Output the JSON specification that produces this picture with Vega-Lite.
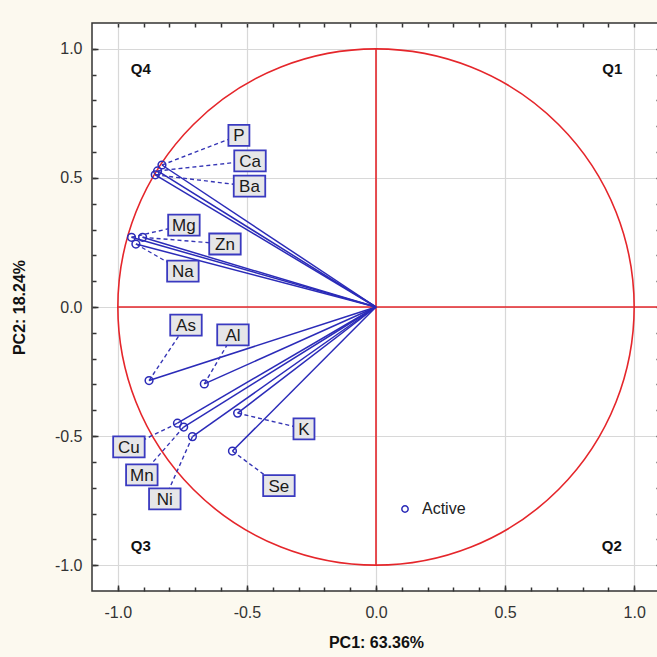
{
  "$schema": "https://vega.github.io/schema/vega-lite/v6.json",
  "autosize": {"type": "none"},
  "padding": {"left": 92, "top": 23, "right": 0, "bottom": 66},
  "width": 568,
  "height": 568,
  "background": "#fcf9ef",
  "config": {
    "view": {"fill": "white", "stroke": "#333333", "strokeWidth": 1.5},
    "font": "Liberation Sans",
    "axis": {"domain": false, "labelFont": "Liberation Sans", "titleFont": "Liberation Sans"}
  },
  "datasets": {
    "vars": [
      {"label": "P", "pc1": -0.829, "pc2": 0.550, "lx": -0.531, "ly": 0.665},
      {"label": "Ca", "pc1": -0.846, "pc2": 0.527, "lx": -0.488, "ly": 0.566},
      {"label": "Ba", "pc1": -0.855, "pc2": 0.512, "lx": -0.490, "ly": 0.468},
      {"label": "Mg", "pc1": -0.947, "pc2": 0.270, "lx": -0.744, "ly": 0.317},
      {"label": "Zn", "pc1": -0.904, "pc2": 0.270, "lx": -0.585, "ly": 0.244},
      {"label": "Na", "pc1": -0.930, "pc2": 0.244, "lx": -0.748, "ly": 0.139},
      {"label": "As", "pc1": -0.879, "pc2": -0.285, "lx": -0.736, "ly": -0.070},
      {"label": "Al", "pc1": -0.665, "pc2": -0.298, "lx": -0.554, "ly": -0.108},
      {"label": "K", "pc1": -0.536, "pc2": -0.411, "lx": -0.279, "ly": -0.472},
      {"label": "Cu", "pc1": -0.769, "pc2": -0.450, "lx": -0.957, "ly": -0.542},
      {"label": "Mn", "pc1": -0.745, "pc2": -0.465, "lx": -0.907, "ly": -0.650},
      {"label": "Ni", "pc1": -0.711, "pc2": -0.502, "lx": -0.818, "ly": -0.743},
      {"label": "Se", "pc1": -0.556, "pc2": -0.558, "lx": -0.376, "ly": -0.692}
    ],
    "quads": [
      {"q": "Q4", "x": -0.911, "y": 0.921},
      {"q": "Q1", "x": 0.915, "y": 0.921},
      {"q": "Q3", "x": -0.911, "y": -0.925},
      {"q": "Q2", "x": 0.913, "y": -0.925}
    ],
    "origin": [{"x": 0, "y": 0}],
    "hline": [{"x": -1, "x2": 1.1, "y": 0}],
    "vline": [{"x": 0, "y": -1, "y2": 1}]
  },
  "resolve": {"axis": {"x": "independent", "y": "independent"}},
  "layer": [
    {
      "layer": [
        {
          "data": {"name": "origin"},
          "mark": {"type": "point", "shape": "circle", "filled": false, "fill": null, "stroke": "#e5262b", "strokeWidth": 1.6, "size": 266600, "opacity": 1},
          "encoding": {
            "x": {
              "field": "x", "type": "quantitative",
              "scale": {"domain": [-1.1, 1.1], "nice": false, "zero": false},
              "axis": {
                "values": [-1, -0.5, 0, 0.5, 1],
                "labelExpr": "(datum.value < 0 ? '-' : '') + format(abs(datum.value), '.1f')",
                "labelOverlap": false, "labelFlush": false,
                "labelFontSize": 16, "labelColor": "#333333", "labelPadding": 19,
                "tickSize": -6, "tickColor": "#333333", "tickWidth": 1.5,
                "grid": true, "gridColor": "#d8d8d8", "gridWidth": 1.2, "gridOpacity": 1,
                "title": "PC1: 63.36%", "titleFontSize": 16, "titleFontWeight": "bold", "titleColor": "#111111", "titlePadding": 14
              }
            },
            "y": {
              "field": "y", "type": "quantitative",
              "scale": {"domain": [-1.1, 1.1], "nice": false, "zero": false},
              "axis": {
                "values": [-1, -0.5, 0, 0.5, 1],
                "labelExpr": "(datum.value < 0 ? '-' : '') + format(abs(datum.value), '.1f')",
                "labelOverlap": false, "labelFlush": false,
                "labelFontSize": 16, "labelColor": "#333333", "labelPadding": 16,
                "tickSize": -6, "tickColor": "#333333", "tickWidth": 1.5,
                "grid": true, "gridColor": "#d8d8d8", "gridWidth": 1.2, "gridOpacity": 1,
                "title": "PC2: 18.24%", "titleFontSize": 16, "titleFontWeight": "bold", "titleColor": "#111111", "titlePadding": 27
              }
            }
          }
        },
        {
          "data": {"name": "hline"},
          "mark": {"type": "rule", "color": "#e5262b", "strokeWidth": 1.6},
          "encoding": {
            "x": {"field": "x", "type": "quantitative"},
            "x2": {"field": "x2"},
            "y": {"field": "y", "type": "quantitative"}
          }
        },
        {
          "data": {"name": "vline"},
          "mark": {"type": "rule", "color": "#e5262b", "strokeWidth": 1.6},
          "encoding": {
            "x": {"field": "x", "type": "quantitative"},
            "y": {"field": "y", "type": "quantitative"},
            "y2": {"field": "y2"}
          }
        },
        {
          "data": {"name": "vars"},
          "mark": {"type": "rule", "color": "#2b2bb8", "strokeWidth": 1.5},
          "encoding": {
            "x": {"field": "pc1", "type": "quantitative"},
            "y": {"field": "pc2", "type": "quantitative"},
            "x2": {"datum": 0},
            "y2": {"datum": 0}
          }
        },
        {
          "data": {"name": "vars"},
          "mark": {"type": "rule", "color": "#3535b5", "strokeWidth": 1.4, "strokeDash": [4, 3]},
          "encoding": {
            "x": {"field": "pc1", "type": "quantitative"},
            "y": {"field": "pc2", "type": "quantitative"},
            "x2": {"field": "lx"},
            "y2": {"field": "ly"}
          }
        },
        {
          "data": {"name": "vars"},
          "mark": {"type": "point", "shape": "circle", "filled": false, "strokeWidth": 1.5, "size": 60, "opacity": 1},
          "encoding": {
            "x": {"field": "pc1", "type": "quantitative"},
            "y": {"field": "pc2", "type": "quantitative"},
            "color": {
              "datum": "Active",
              "scale": {"range": ["#2b2bb8"]},
              "legend": {
                "title": null, "orient": "none", "legendX": 305, "legendY": 478,
                "symbolType": "circle", "symbolSize": 40, "symbolStrokeWidth": 1.5,
                "labelFontSize": 16, "labelColor": "#222222", "labelOffset": 9, "padding": 0
              }
            }
          }
        },
        {
          "data": {"name": "vars"},
          "transform": [{"filter": "length(datum.label) > 1"}],
          "mark": {"type": "point", "shape": "M-1.5,-1H1.5V1H-1.5Z", "filled": true, "fill": "#e6e6e8", "stroke": "#3a3ac0", "strokeWidth": 1.8, "size": 441, "opacity": 1},
          "encoding": {
            "x": {"field": "lx", "type": "quantitative"},
            "y": {"field": "ly", "type": "quantitative"}
          }
        },
        {
          "data": {"name": "vars"},
          "transform": [{"filter": "length(datum.label) == 1"}],
          "mark": {"type": "point", "shape": "M-1,-1H1V1H-1Z", "filled": true, "fill": "#e6e6e8", "stroke": "#3a3ac0", "strokeWidth": 1.8, "size": 441, "opacity": 1},
          "encoding": {
            "x": {"field": "lx", "type": "quantitative"},
            "y": {"field": "ly", "type": "quantitative"}
          }
        },
        {
          "data": {"name": "vars"},
          "mark": {"type": "text", "fontSize": 17, "color": "#1a1a1a", "align": "center", "baseline": "middle", "dy": 1},
          "encoding": {
            "x": {"field": "lx", "type": "quantitative"},
            "y": {"field": "ly", "type": "quantitative"},
            "text": {"field": "label"}
          }
        },
        {
          "data": {"name": "quads"},
          "mark": {"type": "text", "fontSize": 15, "fontWeight": "bold", "color": "#111111", "align": "center", "baseline": "middle"},
          "encoding": {
            "x": {"field": "x", "type": "quantitative"},
            "y": {"field": "y", "type": "quantitative"},
            "text": {"field": "q"}
          }
        }
      ]
    },
    {
      "data": {"name": "origin"},
      "mark": {"type": "point", "opacity": 0, "size": 1},
      "encoding": {
        "x": {
          "field": "x", "type": "quantitative",
          "axis": {
            "orient": "bottom",
            "values": [-1, -0.9, -0.8, -0.7, -0.6, -0.5, -0.4, -0.3, -0.2, -0.1, 0, 0.1, 0.2, 0.3, 0.4, 0.5, 0.6, 0.7, 0.8, 0.9, 1],
            "labels": false, "grid": false, "title": null,
            "tickSize": -4, "tickColor": "#333333", "tickWidth": 1.5
          }
        },
        "y": {
          "field": "y", "type": "quantitative",
          "axis": {
            "orient": "left",
            "values": [-1, -0.9, -0.8, -0.7, -0.6, -0.5, -0.4, -0.3, -0.2, -0.1, 0, 0.1, 0.2, 0.3, 0.4, 0.5, 0.6, 0.7, 0.8, 0.9, 1],
            "labels": false, "grid": false, "title": null,
            "tickSize": -4, "tickColor": "#333333", "tickWidth": 1.5
          }
        }
      }
    },
    {
      "data": {"name": "origin"},
      "mark": {"type": "point", "opacity": 0, "size": 1},
      "encoding": {
        "x": {
          "field": "x", "type": "quantitative",
          "axis": {
            "orient": "top",
            "values": [-1, -0.9, -0.8, -0.7, -0.6, -0.5, -0.4, -0.3, -0.2, -0.1, 0, 0.1, 0.2, 0.3, 0.4, 0.5, 0.6, 0.7, 0.8, 0.9, 1],
            "labels": false, "grid": false, "title": null,
            "tickSize": -4, "tickColor": "#333333", "tickWidth": 1.5
          }
        },
        "y": {
          "field": "y", "type": "quantitative",
          "axis": {
            "orient": "right",
            "values": [-1, -0.9, -0.8, -0.7, -0.6, -0.5, -0.4, -0.3, -0.2, -0.1, 0, 0.1, 0.2, 0.3, 0.4, 0.5, 0.6, 0.7, 0.8, 0.9, 1],
            "labels": false, "grid": false, "title": null,
            "tickSize": -4, "tickColor": "#333333", "tickWidth": 1.5
          }
        }
      }
    }
  ]
}
